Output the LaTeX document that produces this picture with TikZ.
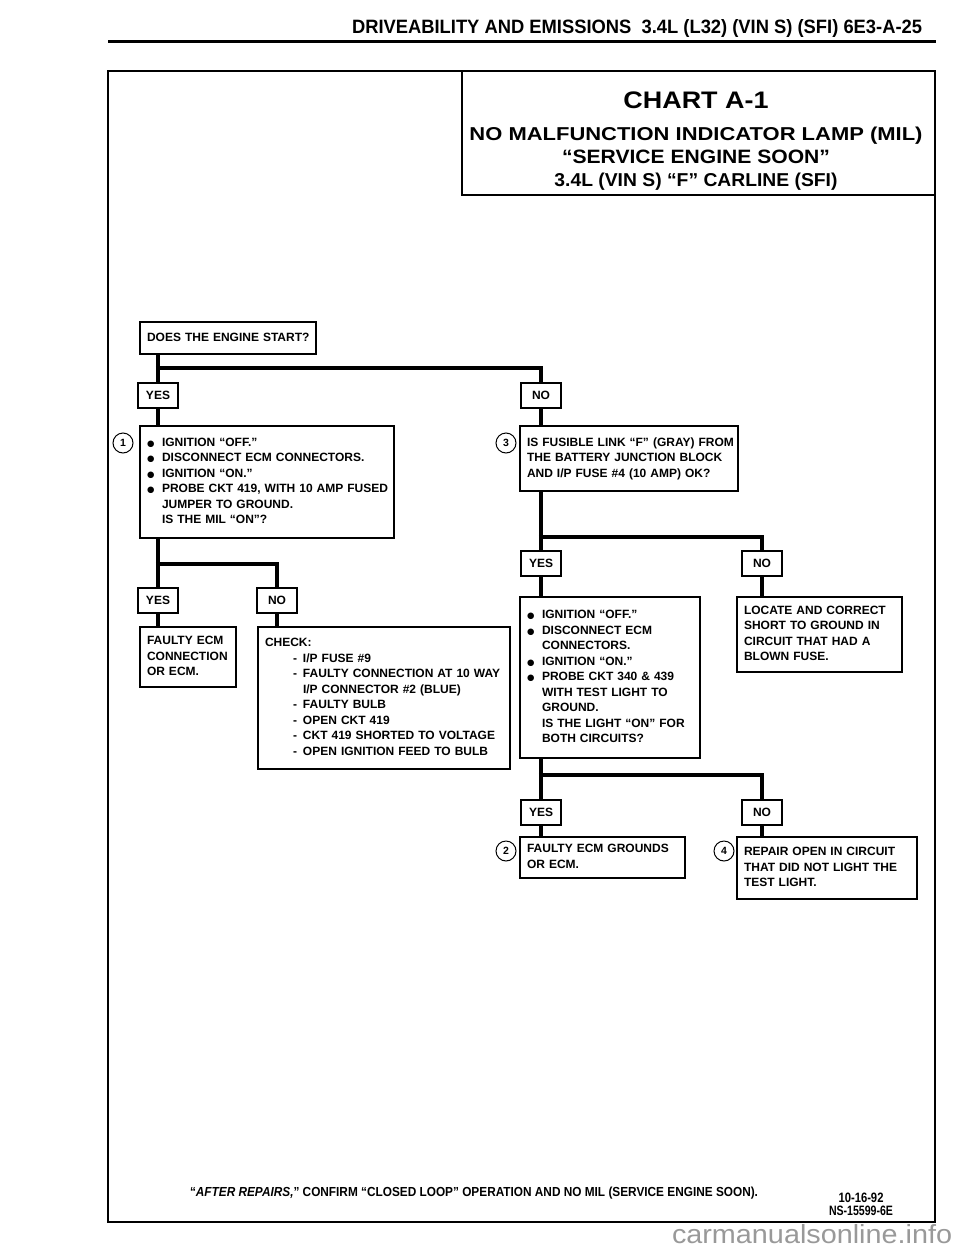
\documentclass[tikz,border=0pt]{standalone}
\usepackage{fontspec}
\setmainfont{Liberation Sans}
\newfontfamily\dvfont{DejaVu Sans}
\usepackage{graphicx}
\usepackage{array}
\newcommand{\bul}{{\dvfont\fontsize{8.5}{8}\selectfont ●}}
\newcommand{\fitt}[3]{\resizebox{#1}{#2}{#3}}
\newcommand{\lns}[1]{\begin{tabular}{@{}l@{}}#1\end{tabular}}
\begin{document}
\begin{tikzpicture}[x=1pt,y=-1pt,
  every node/.style={inner sep=0pt, outer sep=0pt},
  txt/.style={font=\bfseries\fontsize{12}{15.5}\selectfont},
  box/.style={txt, draw, line width=1.2pt, anchor=north west, align=left, inner xsep=7pt},
  yn/.style={txt, draw, line width=1.2pt, minimum width=40pt, minimum height=25pt, anchor=north},
  flow/.style={line width=4.5pt},
  num/.style={circle, draw, line width=1pt, minimum size=20pt, font=\bfseries\fontsize{10.5}{10}\selectfont},
  frame/.style={draw, line width=2pt, anchor=north west},
  ttl/.style={anchor=base, font=\bfseries}]

\useasboundingbox[fill=white] (0,0) rectangle (960,1250);

% header
\node[anchor=base west, font=\bfseries] (hdr) at (352,34) {\fitt{570pt}{14pt}{DRIVEABILITY AND EMISSIONS\ \ 3.4L (L32) (VIN S) (SFI) 6E3-A-25}};
\draw[line width=3pt] (108,41) -- (936,41);

% frame and title
\node[frame, minimum width=827pt, minimum height=1151pt] (frm) at (108,71) {};
\node[draw, line width=1.6pt, anchor=north west, minimum width=473pt, minimum height=124pt] (tbox) at (462,71) {};
\node[ttl] (t1) at (696,108) {\fitt{145pt}{16.7pt}{CHART A-1}};
\node[ttl] (t2) at (696,140) {\fitt{453pt}{13.5pt}{NO MALFUNCTION INDICATOR LAMP (MIL)}};
\node[ttl] (t3) at (696,163) {\fitt{268pt}{13.5pt}{“SERVICE ENGINE SOON”}};
\node[ttl] (t4) at (696,186) {\fitt{283pt}{13.5pt}{3.4L\ (VIN S)\ “F”\ CARLINE\ (SFI)}};

% boxes
\node[box, text width=162pt, minimum height=32pt] (does) at (140,322) {\lns{DOES THE ENGINE START?}};

\node[yn] (yes1) at (158,383) {YES};
\node[yn] (no1) at (541,383) {NO};

\node[box, text width=240pt, minimum height=112pt] (b1) at (140,426) {%
\begin{tabular}{@{}p{15pt}@{}l@{}}
\bul & IGNITION “OFF.”\\
\bul & DISCONNECT ECM CONNECTORS.\\
\bul & IGNITION “ON.”\\
\bul & PROBE CKT 419, WITH 10 AMP FUSED\\
 & JUMPER TO GROUND.\\
 & IS THE MIL “ON”?
\end{tabular}};
\node[num] (c1) at (123,443) {1};

\node[box, text width=204pt, minimum height=65pt] (b3) at (520,426) {\lns{%
IS FUSIBLE LINK “F” (GRAY) FROM\\
THE BATTERY JUNCTION BLOCK\\
AND I/P FUSE \#4 (10 AMP) OK?}};
\node[num] (c3) at (506,443) {3};

\node[yn] (yes2) at (541,551) {YES};
\node[yn] (no2) at (762,551) {NO};

\node[box, text width=166pt, minimum height=161pt] (b5) at (520,597) {%
\begin{tabular}{@{}p{15pt}@{}l@{}}
\bul & IGNITION “OFF.”\\
\bul & DISCONNECT ECM\\
 & CONNECTORS.\\
\bul & IGNITION “ON.”\\
\bul & PROBE CKT 340 \& 439\\
 & WITH TEST LIGHT TO\\
 & GROUND.\\
 & IS THE LIGHT “ON” FOR\\
 & BOTH CIRCUITS?
\end{tabular}};

\node[box, text width=151pt, minimum height=75pt] (b6) at (737,597) {\lns{%
LOCATE AND CORRECT\\
SHORT TO GROUND IN\\
CIRCUIT THAT HAD A\\
BLOWN FUSE.}};

\node[yn] (yes3) at (158,588) {YES};
\node[yn] (no3) at (277,588) {NO};

\node[box, text width=82pt, minimum height=60pt] (b7) at (140,627) {\lns{%
FAULTY ECM\\
CONNECTION\\
OR ECM.}};

\node[box, text width=238pt, minimum height=142pt] (b8) at (258,627) {%
\begin{tabular}{@{\hspace{28pt}}p{10pt}@{}l@{}}
\multicolumn{2}{@{}l@{}}{CHECK:}\\
- & I/P FUSE \#9\\
- & FAULTY CONNECTION AT 10 WAY\\
 & I/P CONNECTOR \#2 (BLUE)\\
- & FAULTY BULB\\
- & OPEN CKT 419\\
- & CKT 419 SHORTED TO VOLTAGE\\
- & OPEN IGNITION FEED TO BULB
\end{tabular}};

\node[yn] (yes4) at (541,800) {YES};
\node[yn] (no4) at (762,800) {NO};

\node[box, text width=151pt, minimum height=41pt] (b9) at (520,837) {\lns{%
FAULTY ECM GROUNDS\\
OR ECM.}};
\node[num] (c2) at (506,851) {2};

\node[box, text width=166pt, minimum height=62pt] (b10) at (737,837) {\lns{%
REPAIR OPEN IN CIRCUIT\\
THAT DID NOT LIGHT THE\\
TEST LIGHT.}};
\node[num] (c4) at (724,851) {4};

% junctions
\coordinate (j1) at (158,368);
\coordinate (j2) at (541,537);
\coordinate (j3) at (158,564);
\coordinate (j4) at (541,775);

% connectors
\draw[flow] (yes1.north |- does.south) -- (yes1.north);
\draw[flow] ([xshift=-2.25pt]j1) -| (no1.north);
\draw[flow] (yes1.south) -- (yes1.south |- b1.north);
\draw[flow] (no1.south) -- (no1.south |- b3.north);

\draw[flow] (yes2.north |- b3.south) -- (yes2.north);
\draw[flow] ([xshift=-2.25pt]j2) -| (no2.north);
\draw[flow] (yes2.south) -- (yes2.south |- b5.north);
\draw[flow] (no2.south) -- (no2.south |- b6.north);

\draw[flow] (yes3.north |- b1.south) -- (yes3.north);
\draw[flow] ([xshift=-2.25pt]j3) -| (no3.north);
\draw[flow] (yes3.south) -- (yes3.south |- b7.north);
\draw[flow] (no3.south) -- (no3.south |- b8.north);

\draw[flow] (yes4.north |- b5.south) -- (yes4.north);
\draw[flow] ([xshift=-2.25pt]j4) -| (no4.north);
\draw[flow] (yes4.south) -- (yes4.south |- b9.north);
\draw[flow] (no4.south) -- (no4.south |- b10.north);

% footer
\node[anchor=base west, font=\bfseries] (ftr) at (190,1196) {\fitt{568pt}{9.5pt}{“\textit{AFTER REPAIRS,}” CONFIRM “CLOSED LOOP” OPERATION AND NO MIL (SERVICE ENGINE SOON).}};
\node[anchor=base, font=\bfseries] (dt) at (861,1202) {\fitt{45pt}{9.5pt}{10-16-92}};
\node[anchor=base, font=\bfseries] (ns) at (861,1215) {\fitt{64pt}{9.5pt}{NS-15599-6E}};

% watermark
\node[anchor=base west, text=black!40] (wm) at (672,1243) {\fitt{280pt}{19pt}{carmanualsonline.info}};
\end{tikzpicture}
\end{document}
